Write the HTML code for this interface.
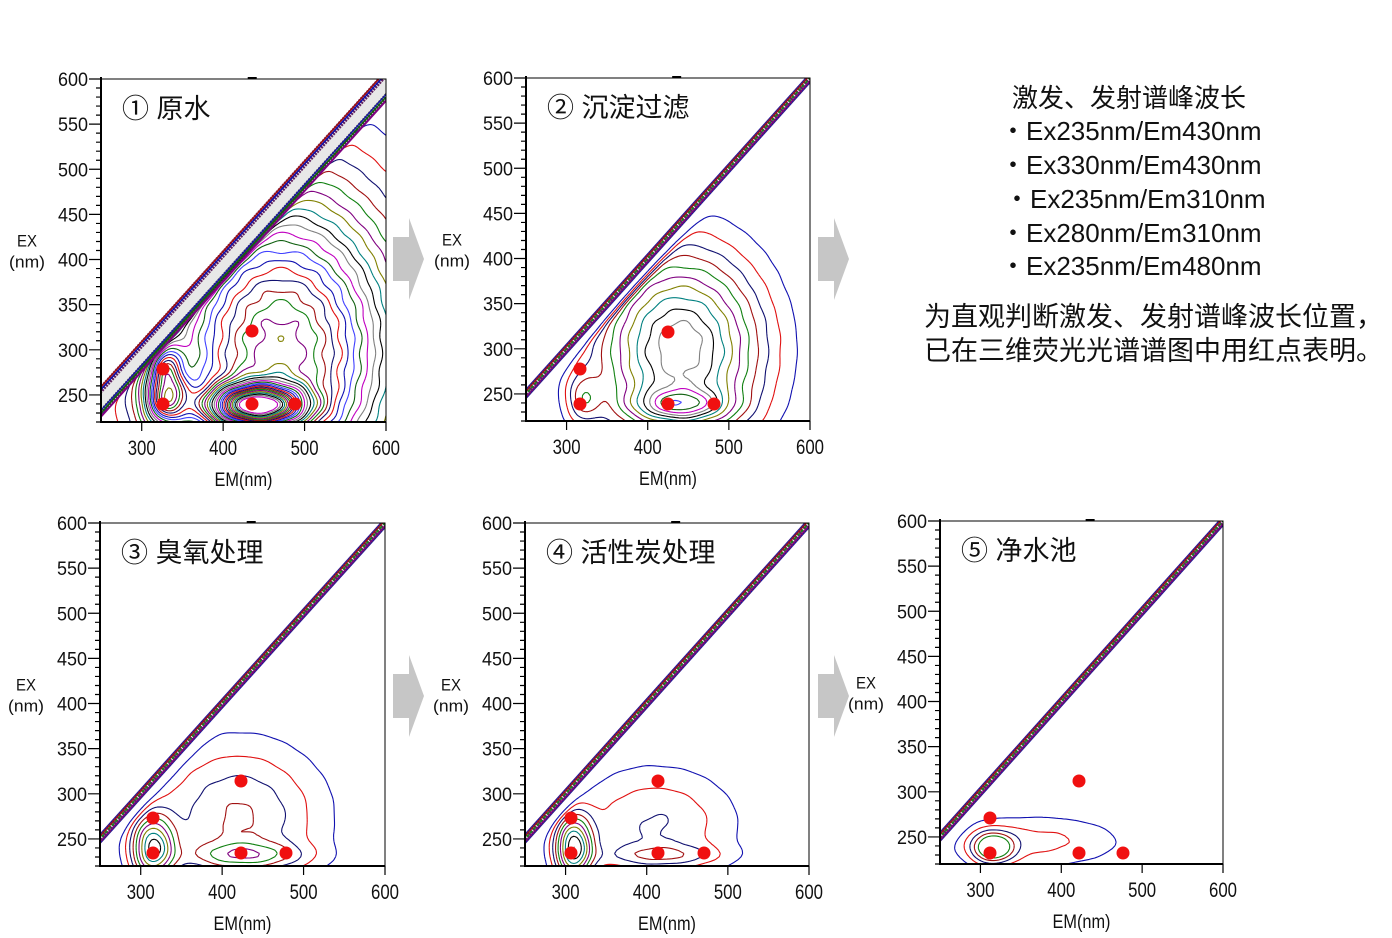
<!DOCTYPE html>
<html><head><meta charset="utf-8">
<style>
body{margin:0;background:#fff;}
svg{display:block;}
.t{font-family:"Liberation Sans","Noto Sans CJK SC",sans-serif;}
</style></head>
<body>
<svg id="s" width="1392" height="938" viewBox="0 0 1392 938" xmlns="http://www.w3.org/2000/svg">
<g class="t" fill="#111" font-size="26">
<text x="1012" y="107">激发、发射谱峰波长</text>
<text x="1000" y="140">・Ex235nm/Em430nm</text>
<text x="1000" y="174">・Ex330nm/Em430nm</text>
<text x="1004" y="208">・Ex235nm/Em310nm</text>
<text x="1000" y="242">・Ex280nm/Em310nm</text>
<text x="1000" y="275">・Ex235nm/Em480nm</text>
<text x="924" y="326" font-size="27">为直观判断激发、发射谱峰波长位置，</text>
<text x="924" y="360" font-size="27">已在三维荧光光谱谱图中用红点表明。</text>
</g>
<g fill="#c6c6c6">
<polygon points="393,237 409,237 409,218 424,259 409,300 409,281 393,281"/>
<polygon points="818,237 834,237 834,218 849,259 834,300 834,281 818,281"/>
<polygon points="393,674 409,674 409,655 424,696 409,737 409,718 393,718"/>
<polygon points="818,674 834,674 834,655 849,696 834,737 834,718 818,718"/>
</g>
</svg>
<script>
const S=document.getElementById('s');const NS='http://www.w3.org/2000/svg';
function el(t,a,p){const e=document.createElementNS(NS,t);for(const k in a)e.setAttribute(k,a[k]);(p||S).appendChild(e);return e;}
const cols=['#1010b0','#e01010','#101070','#a01010','#108010','#800080','#808000','#008080','#000','#808080','#c000c0','#106010','#4040ff'];
const panels=[
{L:101,T:79,R:386,B:422,title:'① 原水',g:[[470,300,100,120,1],[440,238,40,16,1.2],[330,245,18,20,0.6],[330,282,14,18,0.4]],lv:[0.06,1.9,0.05],wide:true,
 dots:[[163,369],[163,404],[252,404],[295,404],[252,331]]},
{L:526,T:78,R:810,B:421,title:'② 沉淀过滤',g:[[440,300,70,75,1],[440,238,40,12,0.5],[320,245,15,20,0.3]],lv:[0.12,1.3,0.09],
 dots:[[580,369],[580,404],[668,404],[714,404],[668,332]]},
{L:100,T:523,R:385,B:866,title:'③ 臭氧处理',g:[[420,275,70,55,0.5],[315,240,18,25,1],[430,232,50,10,0.4]],lv:[0.12,1.3,0.12],
 dots:[[153,818],[153,853],[241,853],[286,853],[241,781]]},
{L:525,T:523,R:809,B:866,title:'④ 活性炭处理',g:[[410,265,70,45,0.35],[310,240,16,25,1],[420,232,50,8,0.25]],lv:[0.12,1.2,0.11],
 dots:[[571,818],[571,853],[658,853],[704,853],[658,781]]},
{L:940,T:521,R:1223,B:864,title:'⑤ 净水池',g:[[370,245,80,22,0.25],[315,238,18,12,0.6]],lv:[0.12,0.6,0.1],
 dots:[[990,818],[990,853],[1079,853],[1123,853],[1079,781]]}
];
panels.forEach((p,pi)=>{
 const sx=(p.R-p.L)/350, sy=(p.B-p.T)/380;
 const X=em=>p.L+(em-250)*sx, Y=ex=>p.B-(ex-220)*sy;
 const cid='c'+pi;
 const cp=el('clipPath',{id:cid});el('rect',{x:p.L,y:p.T,width:p.R-p.L,height:p.B-p.T},cp);
 const g=el('g',{'clip-path':'url(#'+cid+')',fill:'none','stroke-width':1.1});
 const f=(em,ex)=>{let v=0;for(const q of p.g){v+=q[4]*Math.exp(-((em-q[0])**2/(2*q[2]**2)+(ex-q[1])**2/(2*q[3]**2)));}
   v*=1/(1+Math.exp((ex-(em-18))/4));return v*(1+0.02*Math.sin(em*0.13)*Math.cos(ex*0.17));};
 const N=110,M=110,em0=250,em1=600,ex0=220,ex1=600;
 const gv=[];for(let i=0;i<=N;i++){gv[i]=[];for(let j=0;j<=M;j++)gv[i][j]=f(em0+(em1-em0)*i/N,ex0+(ex1-ex0)*j/M);}
 let li=0;
 for(let lv=p.lv[0];lv<=p.lv[1];lv+=p.lv[2]){
  let d='';
  for(let i=0;i<N;i++)for(let j=0;j<M;j++){
   const a=gv[i][j],b=gv[i+1][j],c=gv[i+1][j+1],e=gv[i][j+1];
   const pts=[];
   const px=(ii,jj)=>[X(em0+(em1-em0)*ii/N),Y(ex0+(ex1-ex0)*jj/M)];
   const ed=(v1,v2,p1,p2)=>{if((v1<lv)!==(v2<lv)){const t=(lv-v1)/(v2-v1);pts.push([p1[0]+(p2[0]-p1[0])*t,p1[1]+(p2[1]-p1[1])*t]);}};
   const A=px(i,j),B=px(i+1,j),C=px(i+1,j+1),D=px(i,j+1);
   ed(a,b,A,B);ed(b,c,B,C);ed(c,e,C,D);ed(e,a,D,A);
   for(let k=0;k+1<pts.length;k+=2)d+='M'+pts[k][0].toFixed(1)+' '+pts[k][1].toFixed(1)+'L'+pts[k+1][0].toFixed(1)+' '+pts[k+1][1].toFixed(1);
  }
  el('path',{d:d,stroke:cols[li%cols.length]},g);li++;
 }
 const line=(o,c,w,da)=>el('path',{d:`M${X(240)} ${Y(240+o)}L${X(610)} ${Y(610+o)}`,stroke:c,'stroke-width':w,'stroke-dasharray':da||'none'},g);
 if(p.wide){
  el('path',{d:`M${X(240)} ${Y(244)}L${X(610)} ${Y(614)}L${X(610)} ${Y(592)}L${X(240)} ${Y(222)}Z`,fill:'#e8e8e8',stroke:'none'},g);
  [[6,'#602060',6,'2 1'],[6,'#1010b0',1.5],[9,'#a01010',1.5],[-20,'#404040',6,'2 1'],[-20,'#106010',1.5],[-24,'#800080',2],[-17,'#1010b0',1.2]].forEach(q=>line(q[0],q[1],q[2],q[3]));
 } else {
  [[5,'#1010b0',1.5],[-5,'#1010b0',1.5],[0,'#602060',7,'2 1'],[0,'#208020',2,'3 2'],[3,'#a01010',1.2],[-3,'#800080',1.2]].forEach(q=>line(q[0],q[1],q[2],q[3]));
 }
 el('path',{d:`M${p.L} ${p.T}H${p.R}V${p.B}`,stroke:'#000','stroke-width':1,fill:'none'});
 el('path',{d:`M${p.L} ${p.T-2}V${p.B}H${p.R}`,stroke:'#000','stroke-width':2,fill:'none'});
 el('rect',{x:X(440)-8,y:p.T-2,width:9,height:2,fill:'#000'});
 let tk='';
 for(let ex=220;ex<=600;ex+=10){const y=Y(ex);tk+=`M${p.L} ${y}h${ex%50==0?-12:-5}`;}
 for(let em=300;em<=600;em+=100){const x=X(em);tk+=`M${x} ${p.B}v9`;}
 el('path',{d:tk,stroke:'#000','stroke-width':1.2,fill:'none'});
 for(let ex=250;ex<=600;ex+=50){const t=el('text',{x:p.L-13,y:Y(ex)+7,'text-anchor':'end','font-size':19,textLength:30,lengthAdjust:'spacingAndGlyphs','font-family':'Liberation Sans, sans-serif',fill:'#111'});t.textContent=ex;}
 for(let em=300;em<=600;em+=100){const t=el('text',{x:X(em),y:p.B+33,'text-anchor':'middle','font-size':21,textLength:28,lengthAdjust:'spacingAndGlyphs','font-family':'Liberation Sans, sans-serif',fill:'#111'});t.textContent=em;}
 let t=el('text',{x:X(425),y:p.B+64,'text-anchor':'middle','font-size':19,textLength:58,lengthAdjust:'spacingAndGlyphs','font-family':'Liberation Sans, sans-serif',fill:'#111'});t.textContent='EM(nm)';
 t=el('text',{x:p.L-74,y:Y(400)-13,'text-anchor':'middle','font-size':17,textLength:20,lengthAdjust:'spacingAndGlyphs','font-family':'Liberation Sans, sans-serif',fill:'#111'});t.textContent='EX';
 t=el('text',{x:p.L-74,y:Y(400)+8,'text-anchor':'middle','font-size':17,textLength:36,lengthAdjust:'spacingAndGlyphs','font-family':'Liberation Sans, sans-serif',fill:'#111'});t.textContent='(nm)';
 el('rect',{x:p.L+18,y:p.T+12,width:p.title.length*28,height:34,fill:'#fff'});
 t=el('text',{x:p.L+21,y:p.T+39,'font-size':27,'font-family':'Liberation Sans, Noto Sans CJK SC, sans-serif',fill:'#111'});t.textContent=p.title;
 p.dots.forEach(d=>el('circle',{cx:d[0],cy:d[1],r:6.5,fill:'#f01010'}));
});
</script>
</body></html>
